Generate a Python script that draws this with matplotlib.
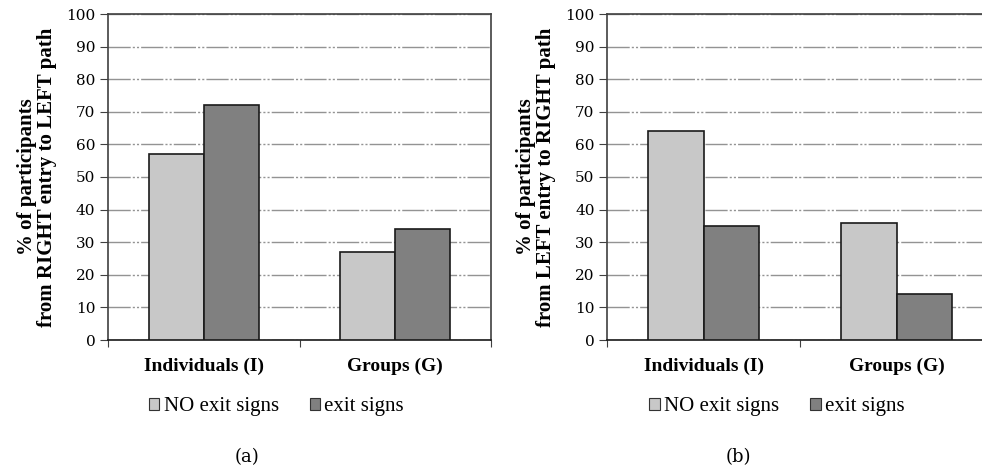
import matplotlib
matplotlib.use("Agg")
import matplotlib.pyplot as plt
from matplotlib.patches import Patch

# Data
categories = ["Individuals (I)", "Groups (G)"]
series_names = ["NO exit signs", "exit signs"]
right_to_left_no_signs = [57, 27]
right_to_left_signs = [72, 34]
left_to_right_no_signs = [64, 36]
left_to_right_signs = [35, 14]
yticks = list(range(0, 101, 10))
panel_tags = ["(a)", "(b)"]
ylabels = ["% of participants\nfrom RIGHT entry to LEFT path",
           "% of participants\nfrom LEFT entry to RIGHT path"]

colors = ["#c8c8c8", "#808080"]
times = ["Liberation Serif", "DejaVu Serif"]
wide_serif = ["DejaVu Serif"]
plt.rcParams["font.family"] = times

W, H = 982, 468
fig = plt.figure(figsize=(W / 100, H / 100), dpi=100)

def px_axes(left, top, right, bottom):
    return fig.add_axes([left / W, 1 - bottom / H, (right - left) / W, (bottom - top) / H])

panels = [
    (px_axes(108, 14, 491, 340), [right_to_left_no_signs, right_to_left_signs]),
    (px_axes(607, 14, 993.5, 340), [left_to_right_no_signs, left_to_right_signs]),
]

bw = 0.287
spine_col = "#404040"
for i, (ax, series) in enumerate(panels):
    xs = list(range(len(categories)))
    for j, vals in enumerate(series):
        offs = -bw / 2 if j == 0 else bw / 2
        ax.bar([x + offs for x in xs], vals, width=bw, color=colors[j],
               edgecolor="#1a1a1a", linewidth=1.2, zorder=3)
    ax.set_xlim(-0.5, 1.5)
    ax.set_ylim(0, 100)
    ax.set_yticks(yticks)
    ax.set_yticklabels([str(v) for v in yticks], fontsize=11, family=wide_serif)
    ax.yaxis.grid(True, color="#939393", linewidth=1.0,
                  linestyle=(0, (16, 1.5, 1.5, 1.5, 1.5, 1.5)), zorder=0)
    ax.set_axisbelow(True)
    ax.set_xticks([-0.5, 0.5, 1.5])
    ax.set_xticklabels([])
    ax.set_xticks(xs, minor=True)
    ax.set_xticklabels(categories, minor=True, fontsize=14, fontweight="bold")
    ax.tick_params(axis="x", which="minor", length=0, pad=13)
    ax.tick_params(axis="x", which="major", direction="out", length=5, color=spine_col)
    ax.tick_params(axis="y", direction="out", length=6, color=spine_col, pad=3)
    for s in ax.spines.values():
        s.set_color(spine_col)
        s.set_linewidth(1.2)
    ax.spines["bottom"].set_color("#1a1a1a")
    ax.set_ylabel(ylabels[i], fontsize=15, fontweight="bold", labelpad=7, linespacing=0.95)

    handles = [Patch(facecolor=colors[k], edgecolor="#333333", linewidth=0.8)
               for k in range(len(series_names))]
    ax.legend(handles, series_names, loc="center", bbox_to_anchor=(0.44, -0.205),
              ncol=2, frameon=False, fontsize=15, handlelength=0.5, handleheight=0.5,
              handletextpad=0.2, columnspacing=1.5)

fig.text(247 / W, 1 - 457 / H, panel_tags[0], ha="center", va="center",
         fontsize=13, family=wide_serif)
fig.text(738 / W, 1 - 457 / H, panel_tags[1], ha="center", va="center",
         fontsize=13, family=wide_serif)

fig.savefig("out.png", dpi=100)
